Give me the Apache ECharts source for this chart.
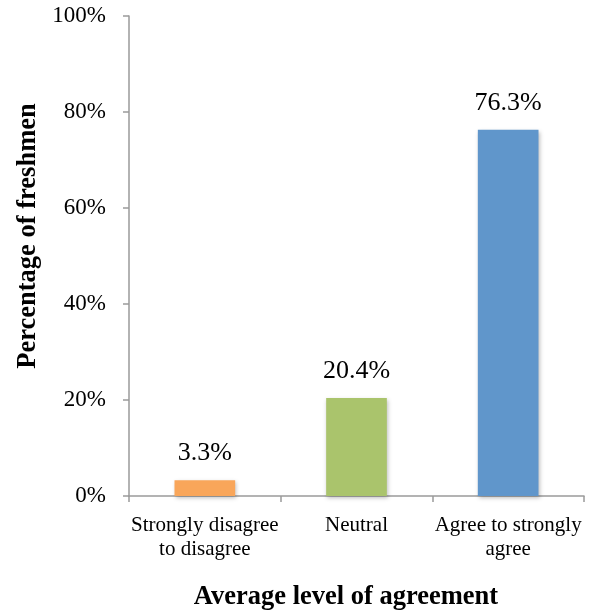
<!DOCTYPE html>
<html>
<head>
<meta charset="utf-8">
<script src="https://cdn.jsdelivr.net/npm/echarts@6/dist/echarts.min.js"></script>
<style>
  html, body { margin: 0; padding: 0; background: #fff; overflow: hidden; }
  #chart { width: 591px; height: 616px; }
</style>
</head>
<body>
<div id="chart"></div>
<script>
// Share of freshmen by average level of agreement
const categories = ['Strongly disagree\nto disagree', 'Neutral', 'Agree to strongly\nagree'];
const percentages = [3.3, 20.4, 76.3];
const barColors = ['#F9A65A', '#AAC46C', '#6096CB'];
const yTicks = [0, 20, 40, 60, 80, 100];

const serif = '"Liberation Serif", "Times New Roman", serif';
const chart = echarts.init(document.getElementById('chart'));

chart.setOption({
  animation: false,
  grid: { left: 129, right: 7, top: 16, bottom: 116, containLabel: false },
  xAxis: {
    type: 'category',
    data: categories,
    name: 'Average level of agreement',
    nameLocation: 'middle',
    nameGap: 88,
    nameTextStyle: { fontFamily: serif, fontSize: 26.5, fontWeight: 'bold', color: '#000', padding: [0, 21, 0, 0] },
    axisLine: { lineStyle: { color: '#9a9a9a', width: 1.5 } },
    axisTick: { show: true, alignWithLabel: false, length: 6, lineStyle: { color: '#9a9a9a', width: 1.5 } },
    axisLabel: { interval: 0, fontFamily: serif, fontSize: 21, color: '#000', margin: 17, lineHeight: 24 }
  },
  yAxis: {
    type: 'value',
    min: yTicks[0],
    max: yTicks[yTicks.length - 1],
    interval: 20,
    name: 'Percentage of freshmen',
    nameLocation: 'middle',
    nameGap: 86,
    nameRotate: 90,
    nameTextStyle: { fontFamily: serif, fontSize: 26.5, fontWeight: 'bold', color: '#000', padding: [0, 0, 0, 40] },
    splitLine: { show: false },
    axisLine: { show: true, lineStyle: { color: '#9a9a9a', width: 1.5 } },
    axisTick: { show: true, inside: false, length: 6, lineStyle: { color: '#9a9a9a', width: 1.5 } },
    axisLabel: { fontFamily: serif, fontSize: 23, color: '#000', margin: 23, formatter: '{value}%' }
  },
  series: [{
    type: 'bar',
    barWidth: '40%',
    data: percentages.map((v, i) => ({
      value: v,
      itemStyle: {
        color: barColors[i],
        shadowColor: 'rgba(0,0,0,0.25)',
        shadowBlur: 4,
        shadowOffsetX: 1,
        shadowOffsetY: 2
      }
    })),
    label: {
      show: true,
      position: 'top',
      distance: 14,
      fontFamily: serif,
      fontSize: 26,
      color: '#000',
      formatter: p => p.value.toFixed(1) + '%'
    }
  }]
});
</script>
</body>
</html>
